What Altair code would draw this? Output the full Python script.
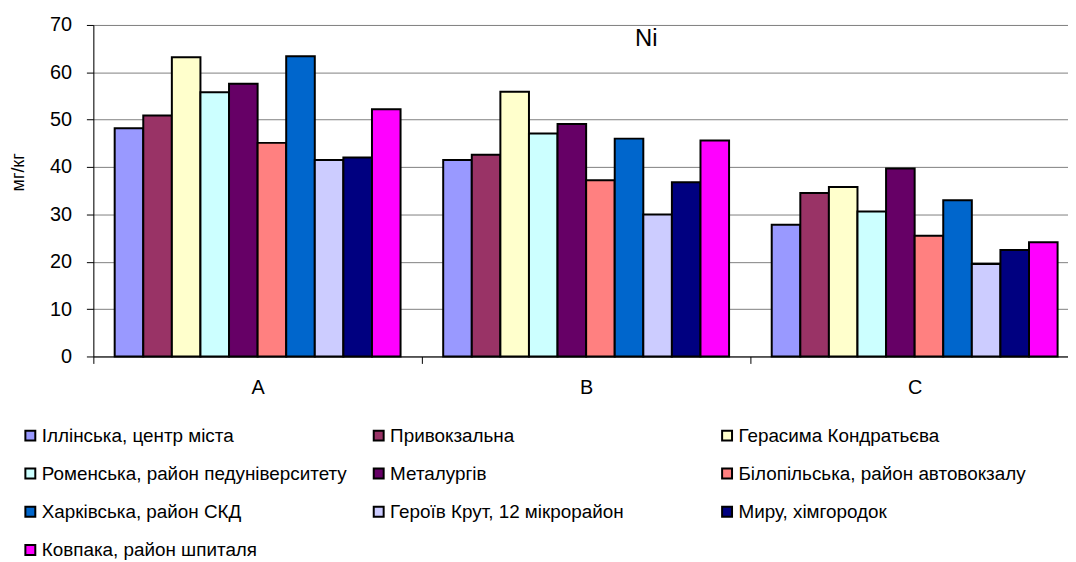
import altair as alt
import pandas as pd

groups = ["A", "B", "C"]
stations = [
    "Іллінська, центр міста",
    "Привокзальна",
    "Герасима Кондратьєва",
    "Роменська, район педуніверситету",
    "Металургів",
    "Білопільська, район автовокзалу",
    "Харківська, район СКД",
    "Героїв Крут, 12 мікрорайон",
    "Миру,  хімгородок",
    "Ковпака, район шпиталя",
]
colors = ["#9999FF", "#993366", "#FFFFCC", "#CCFFFF", "#660066",
          "#FF8080", "#0066CC", "#CCCCFF", "#000080", "#FF00FF"]
values_A = [48.2, 50.9, 63.2, 55.8, 57.6, 45.1, 63.4, 41.5, 42.0, 52.2]
values_B = [41.5, 42.6, 55.9, 47.1, 49.1, 37.2, 46.0, 30.0, 36.8, 45.6]
values_C = [27.8, 34.5, 35.8, 30.6, 39.7, 25.5, 33.0, 19.5, 22.5, 24.1]
y_ticks = [0, 10, 20, 30, 40, 50, 60, 70]

rows = []
for g, vals in zip(groups, [values_A, values_B, values_C]):
    for i, (s, v) in enumerate(zip(stations, vals)):
        rows.append({"group": g, "station": s, "order": i, "value": v})
df = pd.DataFrame(rows)

FONT = "Liberation Sans"

chart = alt.Chart(df).mark_bar(stroke="black", strokeWidth=2).encode(
    x=alt.X("group:N", sort=groups,
            scale=alt.Scale(range=[0, 993], paddingInner=0, paddingOuter=0),
            axis=alt.Axis(title=None, labelAngle=0, tickBand="extent", tickSize=7,
                          labelPadding=14, labelFontSize=20, labelFont=FONT,
                          labelColor="black", domainColor="black", tickColor="black",
                          grid=False)),
    xOffset=alt.XOffset("station:N", sort=stations,
                        scale=alt.Scale(paddingInner=0, paddingOuter=0.746)),
    y=alt.Y("value:Q", scale=alt.Scale(domain=[0, 70], nice=False),
            axis=alt.Axis(title="мг/кг", values=y_ticks, tickSize=7, labelPadding=15,
                          labelFontSize=20, labelFont=FONT, labelColor="black",
                          domainColor="black", tickColor="black",
                          gridColor="#808080", gridWidth=1,
                          titleFont=FONT, titleFontSize=18, titleFontWeight="normal",
                          titleColor="black", titleX=-75, titleY=148,
                          titleAlign="center", titleBaseline="middle", titleAngle=270)),
    color=alt.Color("station:N", sort=stations,
                    scale=alt.Scale(domain=stations, range=colors),
                    legend=alt.Legend(title=None, orient="none", legendX=-73, legendY=404,
                                      direction="horizontal",
                                      columns=3, gridAlign="all", columnPadding=22,
                                      rowPadding=18.5, symbolType="square", symbolSize=100,
                                      symbolStrokeColor="black", symbolStrokeWidth=2,
                                      symbolOffset=0, labelOffset=2, labelFont=FONT,
                                      labelFontSize=19, labelColor="black", labelLimit=500)),
).properties(
    width=982, height=334,
    padding={"left": 86, "top": 15, "right": 0, "bottom": 205},
    autosize="none",
    title=alt.TitleParams(text="Ni", font=FONT, fontSize=24, fontWeight="normal",
                          color="black", anchor="middle", dx=66, dy=36,
                          baseline="top", offset=0),
).configure_view(stroke=None).configure(background="white")

chart.save("out.html", embed_options={"renderer": "svg", "actions": False})
